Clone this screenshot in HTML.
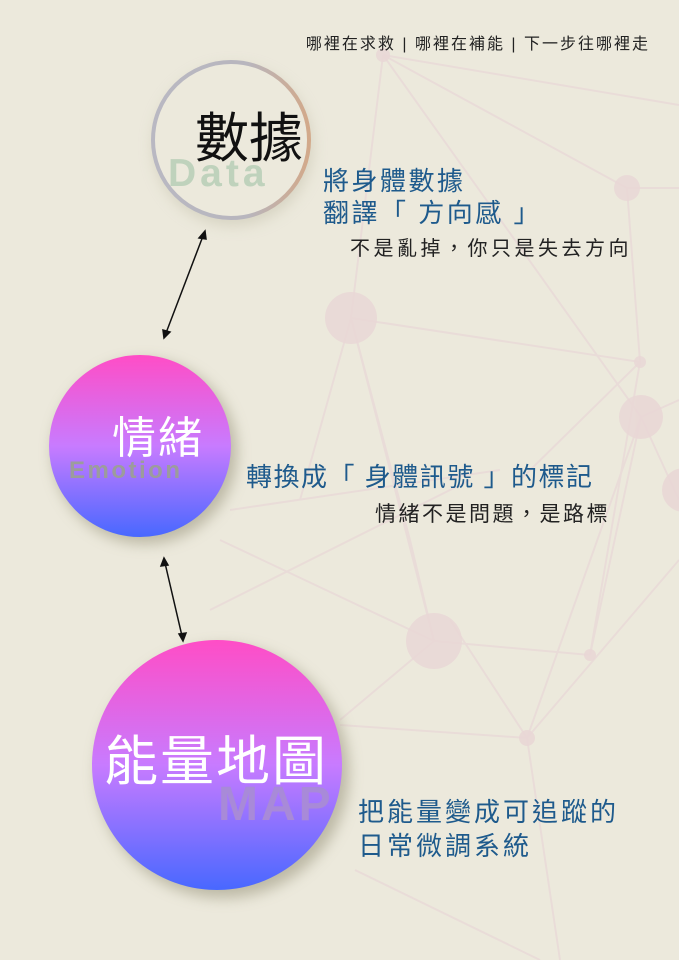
<!DOCTYPE html>
<html><head><meta charset="utf-8"><style>
html,body{margin:0;padding:0;}
body{width:679px;height:960px;overflow:hidden;background:#ECE9DC;font-family:"Liberation Sans","Noto Sans CJK TC",sans-serif;}
svg{display:block}
</style></head><body>
<svg width="679" height="960" viewBox="0 0 679 960" xmlns="http://www.w3.org/2000/svg">
<defs>
<linearGradient id="g" x1="0" y1="0" x2="0" y2="1">
<stop offset="0" stop-color="#FF4DC6"/><stop offset="0.5" stop-color="#C87BFF"/><stop offset="1" stop-color="#4868FF"/>
</linearGradient>
<linearGradient id="ring" x1="0" y1="0" x2="1" y2="0">
<stop offset="0" stop-color="#B9B8C2"/><stop offset="0.6" stop-color="#B8B6BE"/><stop offset="1" stop-color="#D2A98A"/>
</linearGradient>
<filter id="sh" x="-30%" y="-30%" width="160%" height="160%"><feGaussianBlur stdDeviation="7"/></filter>
</defs>
<g stroke="#E8D2D6" stroke-width="2" fill="none" opacity="0.55">
<line x1="383" y1="55" x2="679" y2="105"/>
<line x1="383" y1="55" x2="627" y2="188"/>
<line x1="383" y1="55" x2="351" y2="318"/>
<line x1="383" y1="55" x2="641" y2="417"/>
<line x1="627" y1="188" x2="679" y2="188"/>
<line x1="627" y1="188" x2="640" y2="362"/>
<line x1="351" y1="318" x2="640" y2="362"/>
<line x1="351" y1="318" x2="434" y2="641"/>
<line x1="351" y1="318" x2="300" y2="500"/>
<line x1="351" y1="318" x2="410" y2="540"/>
<line x1="640" y1="362" x2="590" y2="655"/>
<line x1="640" y1="362" x2="520" y2="480"/>
<line x1="641" y1="417" x2="679" y2="400"/>
<line x1="641" y1="417" x2="679" y2="500"/>
<line x1="641" y1="417" x2="527" y2="738"/>
<line x1="641" y1="417" x2="590" y2="655"/>
<line x1="679" y1="560" x2="527" y2="738"/>
<line x1="434" y1="641" x2="590" y2="655"/>
<line x1="434" y1="641" x2="220" y2="540"/>
<line x1="434" y1="641" x2="340" y2="720"/>
<line x1="434" y1="641" x2="410" y2="540"/>
<line x1="527" y1="738" x2="340" y2="725"/>
<line x1="527" y1="738" x2="560" y2="960"/>
<line x1="527" y1="738" x2="450" y2="620"/>
<line x1="355" y1="870" x2="540" y2="960"/>
<line x1="210" y1="610" x2="470" y2="480"/>
<line x1="230" y1="510" x2="500" y2="470"/>
</g>
<g fill="#E9D7D6" opacity="0.85">
<circle cx="383" cy="55" r="7"/><circle cx="627" cy="188" r="13"/><circle cx="351" cy="318" r="26"/>
<circle cx="640" cy="362" r="6"/><circle cx="641" cy="417" r="22"/><circle cx="684" cy="490" r="22"/>
<circle cx="434" cy="641" r="28"/><circle cx="590" cy="655" r="6"/><circle cx="527" cy="738" r="8"/>
</g>
<text x="650" y="49" text-anchor="end" font-size="16" fill="#222" letter-spacing="2">哪裡在求救 | 哪裡在補能 | 下一步往哪裡走</text>
<circle cx="233" cy="146" r="80" fill="#C9C6B2" filter="url(#sh)" opacity="0.6"/>
<circle cx="231" cy="140" r="78" fill="#ECE9DC"/>
<circle cx="231" cy="140" r="78" fill="none" stroke="url(#ring)" stroke-width="4"/>
<text x="168" y="186" font-size="39" font-weight="bold" fill="#BFD2BC" letter-spacing="4">Data</text>
<text x="195" y="157" font-size="54" fill="#111">數據</text>
<text x="323" y="190" font-size="26" fill="#1E5A8C" letter-spacing="2.5">將身體數據</text>
<text x="323" y="222" font-size="26" fill="#1E5A8C" letter-spacing="2.5">翻譯「 方向感 」</text>
<text x="350" y="255" font-size="20" fill="#222" letter-spacing="3.5">不是亂掉，你只是失去方向</text>
<g stroke="#111" stroke-width="1.5" fill="#111">
<line x1="203" y1="236" x2="166" y2="333"/>
<polygon points="205,231 199,238 206,239"/><polygon points="164,338 163,330 170,332"/>
<line x1="165" y1="563" x2="182" y2="636"/>
<polygon points="164,558 161,566 168,565"/><polygon points="183,641 179,634 186,633"/>
</g>
<circle cx="145" cy="452" r="92" fill="#A8A48E" filter="url(#sh)" opacity="0.7"/>
<circle cx="140" cy="446" r="91" fill="url(#g)"/>
<text x="69" y="478" font-size="24" font-weight="bold" fill="#9C9C9C" letter-spacing="2.5">Emotion</text>
<text x="112" y="453" font-size="44" fill="#fff" letter-spacing="2">情緒</text>
<circle cx="223" cy="772" r="126" fill="#A8A48E" filter="url(#sh)" opacity="0.7"/>
<circle cx="217" cy="765" r="125" fill="url(#g)"/>
<text x="218" y="820" font-size="48" font-weight="bold" fill="#A88AD8" letter-spacing="3">MAP</text>
<text x="104" y="780" font-size="54" fill="#fff" letter-spacing="2">能量地圖</text>
<text x="246" y="486" font-size="26" fill="#1E5A8C" letter-spacing="1.5">轉換成「 身體訊號 」的標記</text>
<text x="375" y="521" font-size="21" fill="#222" letter-spacing="2.5">情緒不是問題，是路標</text>
<text x="358" y="821" font-size="26" fill="#1E5A8C" letter-spacing="3">把能量變成可追蹤的</text>
<text x="358" y="855" font-size="26" fill="#1E5A8C" letter-spacing="3">日常微調系統</text>
</svg>
</body></html>
